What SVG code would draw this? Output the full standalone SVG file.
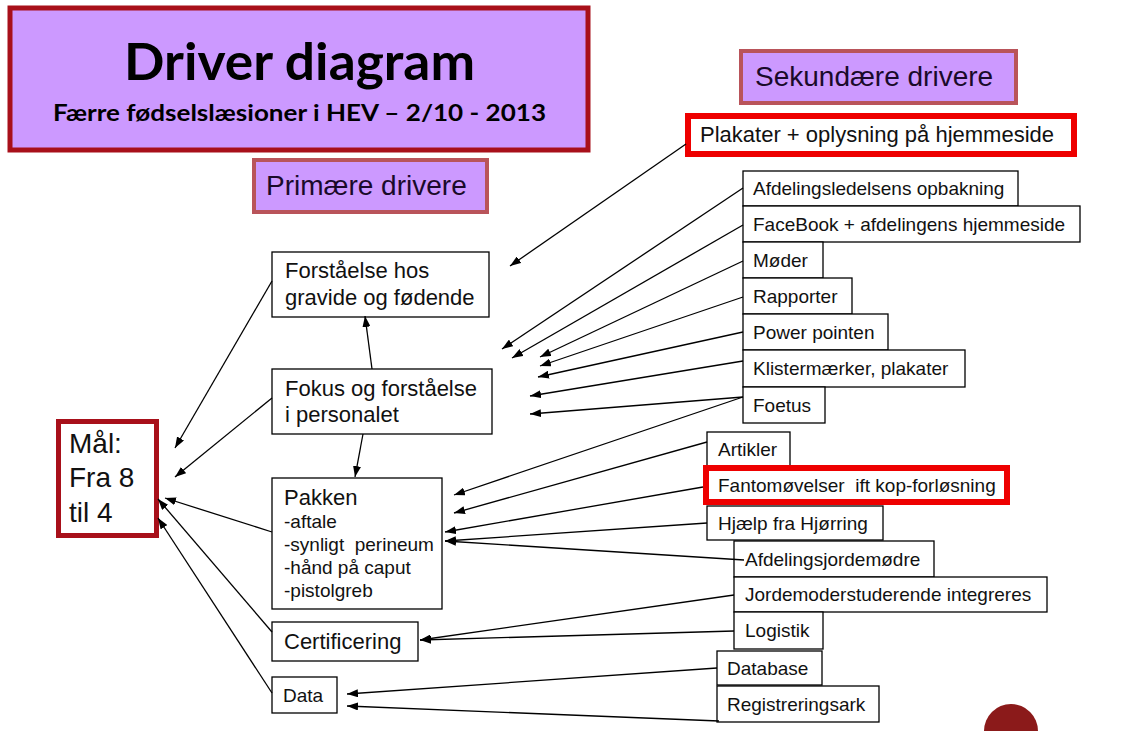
<svg xmlns="http://www.w3.org/2000/svg" width="1123" height="731" viewBox="0 0 1123 731">
<defs>
<marker id="ah" markerUnits="userSpaceOnUse" markerWidth="11" markerHeight="8" refX="11" refY="4" orient="auto">
<path d="M0,0 L11,4 L0,8 z" fill="#000"/>
</marker>
<style>
.bx{fill:#fff;stroke:#000;stroke-width:1.3}
.t{font-family:"Liberation Sans",Arial,sans-serif;font-size:19px;fill:#111}
.tp{font-family:"Liberation Sans",Arial,sans-serif;font-size:22px;fill:#111}
.hd{fill:#cc99ff;stroke:#b9545a;stroke-width:4}
.ht{font-family:"Liberation Sans",Arial,sans-serif;font-size:28px;fill:#1a0a2a}
.red{fill:#fff;stroke:#ee0000;stroke-width:6}
.cn line{stroke:#000;stroke-width:1.3;marker-end:url(#ah)}
</style>
</defs>
<rect width="1123" height="731" fill="#fff"/>

<g id="title">
<rect x="10" y="8" width="578" height="142" fill="#cc99ff" stroke="#a8101a" stroke-width="5"/>
<text x="124" y="80" textLength="351" lengthAdjust="spacingAndGlyphs" font-family="Lato,'Open Sans',sans-serif" font-weight="bold" font-size="52" fill="#000">Driver diagram</text>
<text x="53" y="121" textLength="493" lengthAdjust="spacingAndGlyphs" font-family="Lato,'Open Sans',sans-serif" font-weight="bold" font-size="23" fill="#000">Færre fødselslæsioner i HEV – 2/10 - 2013</text>
</g>

<g id="primaere-header">
<rect class="hd" x="254" y="160" width="233" height="52"/>
<text class="ht" x="266" y="195">Primære drivere</text>
</g>
<g id="sekundaere-header">
<rect class="hd" x="741" y="51" width="275" height="52"/>
<text class="ht" x="755" y="86">Sekundære drivere</text>
</g>

<g id="goal">
<rect x="58.5" y="421.5" width="98" height="114" fill="#fff" stroke="#a8101a" stroke-width="5"/>
<text x="69" y="453" font-family="'Liberation Sans',Arial,sans-serif" font-size="28" fill="#111">Mål:</text>
<text x="69" y="487" font-family="'Liberation Sans',Arial,sans-serif" font-size="28" fill="#111">Fra 8</text>
<text x="69" y="522" font-family="'Liberation Sans',Arial,sans-serif" font-size="28" fill="#111">til 4</text>
</g>

<g id="forstaaelse">
<rect class="bx" x="272" y="252" width="217" height="65"/>
<text class="tp" x="285" y="278">Forståelse hos</text>
<text class="tp" x="285" y="305">gravide og fødende</text>
</g>
<g id="fokus">
<rect class="bx" x="272" y="369" width="220" height="65"/>
<text class="tp" x="285" y="396">Fokus og forståelse</text>
<text class="tp" x="285" y="422">i personalet</text>
</g>
<g id="pakken">
<rect class="bx" x="272" y="478" width="170" height="131"/>
<text class="tp" x="284" y="505">Pakken</text>
<text class="t" x="284" y="528">-aftale</text>
<text class="t" x="284" y="551">-synligt&#160; perineum</text>
<text class="t" x="284" y="574">-hånd på caput</text>
<text class="t" x="284" y="597">-pistolgreb</text>
</g>
<g id="certificering">
<rect class="bx" x="272" y="622" width="146" height="39"/>
<text class="tp" x="284" y="649">Certificering</text>
</g>
<g id="data">
<rect class="bx" x="272" y="677" width="65" height="36"/>
<text class="t" x="283" y="702">Data</text>
</g>

<g id="plakater">
<rect class="red" x="688" y="116" width="386" height="38"/>
<text class="tp" x="700" y="142">Plakater + oplysning på hjemmeside</text>
</g>
<g id="afdelingsledelsens">
<rect class="bx" x="743" y="171" width="275" height="35"/>
<text class="t" x="753" y="195">Afdelingsledelsens opbakning</text>
</g>
<g id="facebook">
<rect class="bx" x="743" y="206" width="337" height="36"/>
<text class="t" x="753" y="231">FaceBook + afdelingens hjemmeside</text>
</g>
<g id="moeder">
<rect class="bx" x="743" y="242" width="80" height="36"/>
<text class="t" x="753" y="267">Møder</text>
</g>
<g id="rapporter">
<rect class="bx" x="743" y="278" width="109" height="36"/>
<text class="t" x="753" y="303">Rapporter</text>
</g>
<g id="powerpointen">
<rect class="bx" x="743" y="314" width="145" height="36"/>
<text class="t" x="753" y="339">Power pointen</text>
</g>
<g id="klistermaerker">
<rect class="bx" x="743" y="350" width="222" height="37"/>
<text class="t" x="753" y="375">Klistermærker, plakater</text>
</g>
<g id="foetus">
<rect class="bx" x="743" y="387" width="82" height="36"/>
<text class="t" x="753" y="412">Foetus</text>
</g>
<g id="artikler">
<rect class="bx" x="707" y="432" width="83" height="34"/>
<text class="t" x="718" y="456">Artikler</text>
</g>
<g id="fantom">
<rect class="red" x="706" y="468" width="301" height="34"/>
<text class="t" x="718" y="492">Fantomøvelser&#160; ift kop-forløsning</text>
</g>
<g id="hjaelp">
<rect class="bx" x="707" y="506" width="176" height="34"/>
<text class="t" x="718" y="530">Hjælp fra Hjørring</text>
</g>
<g id="afdelingsjordemoedre">
<rect class="bx" x="734" y="541" width="200" height="36"/>
<text class="t" x="745" y="566">Afdelingsjordemødre</text>
</g>
<g id="jordemoderstuderende">
<rect class="bx" x="734" y="577" width="313" height="35"/>
<text class="t" x="745" y="601">Jordemoderstuderende integreres</text>
</g>
<g id="logistik">
<rect class="bx" x="734" y="612" width="89" height="37"/>
<text class="t" x="745" y="637">Logistik</text>
</g>
<g id="database">
<rect class="bx" x="717" y="651" width="105" height="34"/>
<text class="t" x="727" y="675">Database</text>
</g>
<g id="registreringsark">
<rect class="bx" x="717" y="686" width="162" height="36"/>
<text class="t" x="727" y="711">Registreringsark</text>
</g>

<circle cx="1011" cy="731" r="27" fill="#8b1a1a"/>

<g id="connectors" class="cn">
<line x1="272" y1="281" x2="175" y2="448"/>
<line x1="272" y1="398" x2="175" y2="477"/>
<line x1="272" y1="532" x2="165" y2="498"/>
<line x1="272" y1="632" x2="158" y2="499"/>
<line x1="272" y1="693" x2="158" y2="518"/>
<line x1="372" y1="369" x2="365" y2="316"/>
<line x1="363" y1="434" x2="355" y2="477"/>
<line x1="686" y1="144" x2="510" y2="266"/>
<line x1="743" y1="188" x2="502" y2="349"/>
<line x1="743" y1="225" x2="512" y2="358"/>
<line x1="743" y1="261" x2="540" y2="357"/>
<line x1="743" y1="297" x2="540" y2="366"/>
<line x1="743" y1="332" x2="538" y2="377"/>
<line x1="743" y1="361" x2="530" y2="396"/>
<line x1="743" y1="397" x2="530" y2="414"/>
<line x1="743" y1="397" x2="454" y2="495"/>
<line x1="707" y1="442" x2="454" y2="513"/>
<line x1="703" y1="487" x2="445" y2="532"/>
<line x1="707" y1="523" x2="445" y2="541"/>
<line x1="744" y1="560" x2="445" y2="541"/>
<line x1="734" y1="595" x2="420" y2="640"/>
<line x1="734" y1="631" x2="420" y2="640"/>
<line x1="717" y1="668" x2="347" y2="694"/>
<line x1="719" y1="721" x2="347" y2="706"/>
</g>
</svg>
